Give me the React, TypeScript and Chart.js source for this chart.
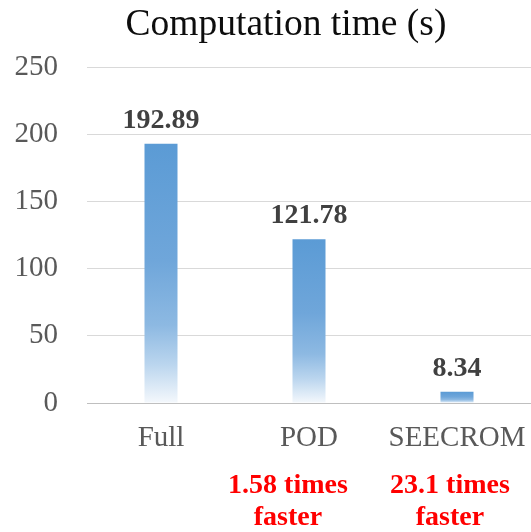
import { useEffect, useRef } from "react";
import { Chart, registerables } from "chart.js";

Chart.register(...registerables);

// Data
const categories = ["Full", "POD", "SEECROM"];
const computeTimes = [192.89, 121.78, 8.34];
const speedupNotes: string[][] = [[], ["1.58 times", "faster"], ["23.1 times", "faster"]];
const titleText = "Computation time (s)";
const yMin = 0;
const yMax = 250;
const yStep = 50;

// Style
const SERIF = '"Liberation Serif", "Times New Roman", serif';
const WIDTH = 531;
const HEIGHT = 532;
const TITLE_X = 286;
const TITLE_BASELINE = 35;
const NOTE_SHIFT = [0, -21, -7];
const BAR_STOPS: [number, string][] = [
  [0, "#5b9bd5"],
  [0.45, "#6fa6da"],
  [0.7, "#8db9e2"],
  [0.85, "#bad5ee"],
  [1, "#f4f8fc"],
];

const annotate = {
  id: "annotate",
  afterDatasetsDraw(chart: any) {
    const { ctx, chartArea, scales } = chart;
    const meta = chart.getDatasetMeta(0);
    ctx.save();
    ctx.textAlign = "center";
    ctx.textBaseline = "alphabetic";

    // value labels above the bars
    ctx.font = `bold 28px ${SERIF}`;
    ctx.fillStyle = "#404040";
    meta.data.forEach((bar: any, i: number) => {
      ctx.fillText(computeTimes[i].toFixed(2), bar.x, bar.y - 16);
    });

    // speed-up notes under the category labels
    ctx.fillStyle = "#ff0000";
    speedupNotes.forEach((lines, i) => {
      const x = scales.x.getPixelForValue(i) + NOTE_SHIFT[i];
      lines.forEach((line, k) => {
        ctx.fillText(line, x, chartArea.bottom + 90 + k * 32);
      });
    });

    // title
    ctx.font = `37.5px ${SERIF}`;
    ctx.fillStyle = "#0d0d0d";
    ctx.fillText(titleText, TITLE_X, TITLE_BASELINE);
    ctx.restore();
  },
};

export default function App() {
  const canvasRef = useRef<HTMLCanvasElement | null>(null);

  useEffect(() => {
    const canvas = canvasRef.current;
    if (!canvas) return;
    const chart = new Chart(canvas, {
      type: "bar",
      data: {
        labels: categories,
        datasets: [
          {
            data: computeTimes,
            categoryPercentage: 1,
            barPercentage: 0.223,
            borderWidth: 0,
            backgroundColor: (c: any) => {
              const ch = c.chart;
              const y = ch.scales?.y;
              if (!y || c.raw == null) return "#5b9bd5";
              const top = y.getPixelForValue(c.raw);
              const bottom = y.getPixelForValue(0);
              if (!isFinite(top) || !isFinite(bottom) || bottom - top < 1) return "#5b9bd5";
              const g = ch.ctx.createLinearGradient(0, top, 0, bottom);
              BAR_STOPS.forEach(([p, col]) => g.addColorStop(p, col));
              return g;
            },
          },
        ],
      },
      options: {
        responsive: false,
        animation: false,
        devicePixelRatio: 1,
        layout: { padding: { top: 67, left: 0, right: 0, bottom: 0 } },
        plugins: {
          legend: { display: false },
          tooltip: { enabled: false },
          title: { display: false },
        },
        scales: {
          x: {
            grid: { display: false, drawTicks: false },
            border: { display: false },
            ticks: {
              color: "#595959",
              font: { family: SERIF, size: 29 },
              padding: 18,
              maxRotation: 0,
              autoSkip: false,
            },
            afterFit: (s: any) => {
              s.height = 129;
              s.paddingLeft = 0;
              s.paddingRight = 0;
            },
          },
          y: {
            min: yMin,
            max: yMax,
            grid: {
              drawTicks: false,
              color: (c: any) => (c.tick && c.tick.value === 0 ? "#bfbfbf" : "#d9d9d9"),
              lineWidth: 1,
            },
            border: { display: false },
            ticks: {
              stepSize: yStep,
              color: "#595959",
              font: { family: SERIF, size: 29 },
              padding: 29,
            },
            afterFit: (s: any) => {
              s.width = 87;
            },
          },
        },
      },
      plugins: [annotate],
    });
    return () => chart.destroy();
  }, []);

  return (
    <div style={{ position: "fixed", left: 0, top: 0, width: WIDTH, height: HEIGHT, background: "#fff" }}>
      <canvas ref={canvasRef} width={WIDTH} height={HEIGHT} />
    </div>
  );
}
